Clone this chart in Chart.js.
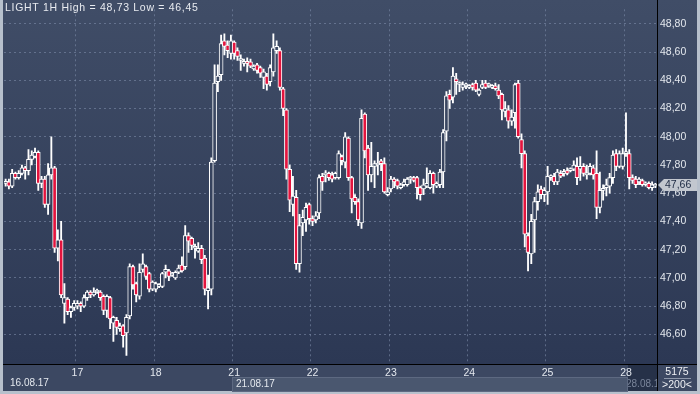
<!DOCTYPE html>
<html>
<head>
<meta charset="utf-8">
<script src="https://cdn.jsdelivr.net/npm/chart.js@4.4.1/dist/chart.umd.min.js"></script>
<style>
html, body { margin: 0; padding: 0; background: #b7c0cc; }
canvas { display: block; }
</style>
</head>
<body>
<canvas id="chart" width="700" height="394"></canvas>
<script>
const days = ["16", "17", "18", "21", "22", "23", "24", "25", "28"];
const candlesPerDay = [22, 24, 24, 24, 24, 24, 24, 24, 10];
const yTicks = [46.6, 46.8, 47.0, 47.2, 47.4, 47.6, 47.8, 48.0, 48.2, 48.4, 48.6, 48.8];

const opens = [
    47.67,47.68,47.65,47.74,47.71,47.74,47.78,47.76,47.84,47.86,47.89,47.67,47.70,47.52,47.73,47.78,47.21,47.27,46.82,46.85,46.76,46.79,
    46.80,46.82,46.80,46.86,46.90,46.88,46.90,46.90,46.87,46.77,46.86,46.68,46.70,46.64,46.66,46.61,46.73,47.08,46.96,46.87,47.06,47.08,47.03,46.92,
    46.92,46.94,46.94,47.04,47.05,47.02,47.00,47.04,47.09,47.08,47.30,47.28,47.21,47.19,47.21,47.14,46.91,46.92,47.83,48.39,48.44,48.68,48.65,48.59,
    48.67,48.61,48.54,48.52,48.53,48.53,48.48,48.51,48.49,48.42,48.43,48.39,48.46,48.61,48.61,48.34,48.19,47.77,47.52,47.57,47.10,47.39,47.41,47.52,
    47.42,47.41,47.46,47.72,47.73,47.74,47.73,47.71,47.71,47.86,47.82,47.99,47.71,47.57,47.54,47.39,48.16,47.92,47.73,47.79,47.80,47.83,47.81,47.59,
    47.63,47.70,47.69,47.64,47.66,47.66,47.70,47.71,47.71,47.64,47.63,47.65,47.64,47.74,47.65,47.66,47.75,48.04,48.30,48.28,48.41,48.37,48.35,48.36,
    48.35,48.37,48.38,48.30,48.35,48.38,48.36,48.35,48.36,48.33,48.30,48.18,48.19,48.11,48.17,48.38,47.98,47.88,47.30,47.17,47.41,47.54,47.63,47.59,
    47.61,47.71,47.72,47.68,47.74,47.74,47.76,47.76,47.77,47.79,47.77,47.79,47.73,47.74,47.78,47.74,47.50,47.62,47.64,47.65,47.71,47.88,47.79,47.79,
    47.88,47.88,47.71,47.70,47.68,47.69,47.66,47.67,47.64,47.65
];
const highs = [
    47.70,47.70,47.77,47.75,47.76,47.80,47.79,47.91,47.90,47.92,47.90,47.72,47.72,47.81,48.00,47.79,47.34,47.40,46.96,46.86,46.80,46.84,
    46.84,46.83,46.88,46.91,46.91,46.93,46.92,46.91,46.88,46.88,46.87,46.73,46.72,46.68,46.67,46.74,47.10,47.09,46.97,47.10,47.17,47.09,47.04,46.98,
    46.97,46.96,47.04,47.09,47.06,47.04,47.05,47.09,47.15,47.37,47.32,47.29,47.24,47.25,47.23,47.16,47.02,47.85,48.51,48.51,48.72,48.73,48.68,48.72,
    48.68,48.63,48.58,48.55,48.56,48.55,48.51,48.52,48.50,48.48,48.45,48.51,48.73,48.68,48.63,48.35,48.20,47.80,47.72,47.62,47.45,47.48,47.53,47.53,
    47.44,47.47,47.73,47.74,47.76,47.75,47.75,47.75,47.90,47.87,48.03,48.00,47.72,47.59,47.56,48.19,48.17,47.94,47.96,47.83,47.89,47.84,47.85,47.64,
    47.72,47.71,47.70,47.67,47.70,47.71,47.72,47.72,47.72,47.65,47.70,47.78,47.76,47.75,47.68,47.77,48.05,48.32,48.33,48.49,48.45,48.39,48.39,48.38,
    48.37,48.38,48.40,48.34,48.40,48.40,48.38,48.37,48.38,48.37,48.31,48.25,48.22,48.19,48.38,48.40,48.02,47.90,47.32,47.45,47.57,47.66,47.65,47.64,
    47.79,47.73,47.74,47.77,47.76,47.77,47.78,47.78,47.83,47.85,47.86,47.81,47.80,47.81,47.80,47.90,47.75,47.66,47.70,47.74,47.90,47.91,47.90,47.92,
    48.17,47.91,47.73,47.72,47.71,47.70,47.68,47.68,47.68,47.67
];
const lows = [
    47.65,47.63,47.64,47.70,47.70,47.73,47.70,47.73,47.80,47.85,47.62,47.64,47.50,47.45,47.70,47.18,47.12,46.86,46.68,46.74,46.72,46.77,
    46.78,46.76,46.79,46.84,46.86,46.87,46.89,46.84,46.74,46.72,46.64,46.55,46.60,46.62,46.51,46.45,46.71,46.92,46.83,46.85,47.04,46.99,46.90,46.91,
    46.90,46.93,46.93,47.00,46.98,47.01,46.99,47.03,47.04,47.06,47.18,47.20,47.14,47.18,47.10,46.88,46.78,46.88,47.82,48.32,48.40,48.58,48.56,48.55,
    48.55,48.54,48.47,48.50,48.46,48.49,48.47,48.45,48.42,48.34,48.33,48.36,48.43,48.59,48.33,48.15,47.70,47.47,47.44,47.06,47.04,47.30,47.33,47.38,
    47.37,47.39,47.42,47.62,47.68,47.69,47.68,47.70,47.70,47.80,47.78,47.69,47.46,47.52,47.37,47.35,47.85,47.62,47.68,47.64,47.73,47.76,47.60,47.58,
    47.61,47.64,47.63,47.63,47.65,47.65,47.67,47.68,47.56,47.55,47.59,47.64,47.63,47.60,47.64,47.64,47.64,47.97,48.20,48.24,48.30,48.32,48.33,48.34,
    48.34,48.33,48.32,48.29,48.34,48.34,48.35,48.34,48.33,48.27,48.12,48.14,48.06,48.08,48.06,47.99,47.78,47.22,47.05,47.10,47.18,47.48,47.56,47.54,
    47.52,47.69,47.66,47.66,47.71,47.72,47.73,47.75,47.76,47.66,47.69,47.72,47.70,47.73,47.70,47.42,47.46,47.55,47.58,47.60,47.67,47.76,47.78,47.77,
    47.86,47.63,47.67,47.64,47.66,47.65,47.65,47.63,47.62,47.64
];
const closes = [
    47.68,47.65,47.74,47.71,47.74,47.78,47.76,47.84,47.87,47.89,47.67,47.70,47.52,47.73,47.78,47.21,47.27,46.88,46.86,46.76,46.79,46.82,
    46.82,46.80,46.86,46.90,46.88,46.90,46.91,46.86,46.77,46.87,46.71,46.72,46.65,46.66,46.59,46.72,47.08,46.95,46.88,47.04,47.10,47.01,46.92,46.97,
    46.96,46.95,47.03,47.06,47.01,47.03,47.04,47.07,47.05,47.30,47.26,47.23,47.22,47.21,47.13,46.92,46.93,47.82,48.38,48.43,48.66,48.64,48.61,48.68,
    48.59,48.57,48.55,48.53,48.52,48.50,48.50,48.47,48.45,48.46,48.37,48.49,48.63,48.64,48.35,48.20,47.77,47.55,47.58,47.10,47.37,47.43,47.50,47.42,
    47.40,47.44,47.71,47.68,47.74,47.71,47.70,47.74,47.88,47.83,48.00,47.71,47.56,47.54,47.41,48.13,47.90,47.73,47.79,47.81,47.81,47.81,47.61,47.61,
    47.70,47.68,47.65,47.66,47.68,47.70,47.71,47.69,47.64,47.59,47.66,47.67,47.74,47.66,47.67,47.75,48.03,48.29,48.26,48.43,48.39,48.38,48.37,48.37,
    48.36,48.35,48.33,48.33,48.37,48.35,48.37,48.36,48.34,48.29,48.19,48.20,48.11,48.14,48.37,48.00,47.88,47.31,47.18,47.40,47.54,47.61,47.59,47.62,
    47.72,47.72,47.68,47.75,47.72,47.75,47.74,47.77,47.80,47.71,47.79,47.74,47.74,47.79,47.73,47.50,47.62,47.63,47.66,47.71,47.87,47.79,47.88,47.88,
    47.89,47.71,47.69,47.66,47.70,47.66,47.67,47.64,47.66,47.66
];

const FONT = "'Liberation Sans', Arial, sans-serif";
const gridColor = "rgba(125, 140, 168, 0.6)";
const downColor = "#e3143e";
const wickColor = "#ffffff";

function fmt(v) {
    return v.toFixed(2).replace(".", ",");
}

function buildCategories() {
    const labels = [];
    const dayStarts = {};
    days.forEach((d, di) => {
        const n = candlesPerDay[di];
        const firstHour = 24 - n;
        dayStarts[labels.length] = d;
        for (let h = 0; h < n; h++) {
            labels.push(d + ".08 " + String(firstHour + h).padStart(2, "0") + ":00");
        }
    });
    delete dayStarts[0];
    return { labels, dayStarts };
}

let bgGradient = null;
function plotGradient(ctx) {
    if (!bgGradient) {
        bgGradient = ctx.createLinearGradient(0, 0, 0, 364);
        bgGradient.addColorStop(0, "#404d67");
        bgGradient.addColorStop(1, "#2c3854");
    }
    return bgGradient;
}

const framePlugin = {
    id: "frame",
    beforeDraw(chart) {
        const { ctx, width, height } = chart;
        ctx.save();
        ctx.fillStyle = "#b7c0cc";
        ctx.fillRect(0, 0, width, height);
        ctx.fillStyle = plotGradient(ctx);
        ctx.fillRect(3, 0, width - 6, 364);
        ctx.fillStyle = "#3c4862";
        ctx.fillRect(3, 364, width - 6, height - 367);
        // scroller strip under the time axis
        ctx.fillStyle = "#4a576f";
        ctx.fillRect(232, 377, 396, 14);
        ctx.strokeStyle = "#5d6981";
        ctx.lineWidth = 1;
        ctx.strokeRect(232.5, 377.5, 395, 14);
        ctx.fillStyle = "#263148";
        ctx.fillRect(628, 365, 29, 26);
        ctx.restore();
    },
    afterDraw(chart) {
        const { ctx, width } = chart;
        const yScale = chart.scales.y;
        ctx.save();
        ctx.strokeStyle = "#000";
        ctx.lineWidth = 1;
        ctx.beginPath();
        ctx.moveTo(657.5, 0);
        ctx.lineTo(657.5, 391);
        ctx.moveTo(3, 364.5);
        ctx.lineTo(width - 3, 364.5);
        ctx.stroke();

        ctx.textBaseline = "middle";
        ctx.fillStyle = "#e8ebf0";
        ctx.font = "10.5px " + FONT;
        ctx.letterSpacing = "0.7px";
        const title = "LIGHT 1H High = " + fmt(Math.max(...highs)) + " Low = " + fmt(Math.min(...lows));
        ctx.fillText(title, 5, 8);
        ctx.letterSpacing = "0px";

        ctx.font = "10px " + FONT;
        ctx.fillStyle = "#e4e8ee";
        ctx.textAlign = "left";
        ctx.fillText("16.08.17", 10, 383);
        ctx.fillText("21.08.17", 236, 384);

        ctx.save();
        ctx.beginPath();
        ctx.rect(628, 365, 29, 26);
        ctx.clip();
        ctx.fillStyle = "#7a859a";
        ctx.fillText("28.08.17", 626, 384);
        ctx.restore();

        ctx.textAlign = "center";
        ctx.fillStyle = "#eef0f4";
        ctx.font = "10.5px " + FONT;
        ctx.fillText("5175", 677, 372);
        ctx.fillText(">200<", 677, 385);
        ctx.strokeStyle = "#8e98aa";
        ctx.beginPath();
        ctx.moveTo(664, 378.5);
        ctx.lineTo(691, 378.5);
        ctx.stroke();

        // last price marker
        const last = closes[closes.length - 1];
        const y = Math.round(yScale.getPixelForValue(last));
        ctx.fillStyle = "#c2c7cf";
        ctx.beginPath();
        ctx.moveTo(658, y);
        ctx.lineTo(664, y - 6);
        ctx.lineTo(697, y - 6);
        ctx.lineTo(697, y + 6);
        ctx.lineTo(664, y + 6);
        ctx.closePath();
        ctx.fill();
        ctx.fillStyle = "#1d2a43";
        ctx.textAlign = "left";
        ctx.fillText(fmt(last), 665, y);
        ctx.restore();
    }
};

function renderChart() {
    const { labels, dayStarts } = buildCategories();
    const bodies = opens.map((o, i) => [Math.min(o, closes[i]), Math.max(o, closes[i])]);
    const wicks = lows.map((l, i) => [l, highs[i]]);

    new Chart(document.getElementById("chart"), {
        type: "bar",
        data: {
            labels: labels,
            datasets: [
                {
                    data: bodies,
                    grouped: false,
                    barThickness: 4,
                    minBarLength: 2,
                    borderWidth: 1,
                    borderSkipped: false,
                    borderColor: wickColor,
                    backgroundColor: (c) => closes[c.dataIndex] < opens[c.dataIndex] ? downColor : plotGradient(c.chart.ctx)
                },
                {
                    data: wicks,
                    grouped: false,
                    barThickness: 1.2,
                    borderWidth: 0,
                    backgroundColor: wickColor
                }
            ]
        },
        options: {
            responsive: false,
            animation: false,
            events: [],
            layout: { padding: { left: 4, top: 0, right: 3, bottom: 3 } },
            plugins: { legend: { display: false }, tooltip: { enabled: false } },
            scales: {
                x: {
                    offset: true,
                    grid: {
                        offset: true,
                        drawTicks: false,
                        color: (c) => dayStarts[c.index] ? gridColor : "rgba(0,0,0,0)"
                    },
                    border: { display: false, dash: [2, 3] },
                    ticks: {
                        autoSkip: false,
                        maxRotation: 0,
                        padding: 3,
                        color: "#e4e8ee",
                        font: { family: FONT, size: 10.5 },
                        callback: (v) => dayStarts[v] || ""
                    },
                    afterFit: (s) => { s.height = 27; }
                },
                y: {
                    position: "right",
                    min: 46.39,
                    max: 48.903,
                    afterBuildTicks: (s) => { s.ticks = yTicks.map(v => ({ value: v })); },
                    grid: { color: gridColor, drawTicks: false },
                    border: { display: false, dash: [2, 3] },
                    ticks: {
                        padding: 3,
                        color: "#e4e8ee",
                        font: { family: FONT, size: 10.5 },
                        callback: (v) => fmt(v)
                    },
                    afterFit: (s) => { s.width = 40; }
                }
            }
        },
        plugins: [framePlugin]
    });
}

renderChart();
</script>
</body>
</html>
